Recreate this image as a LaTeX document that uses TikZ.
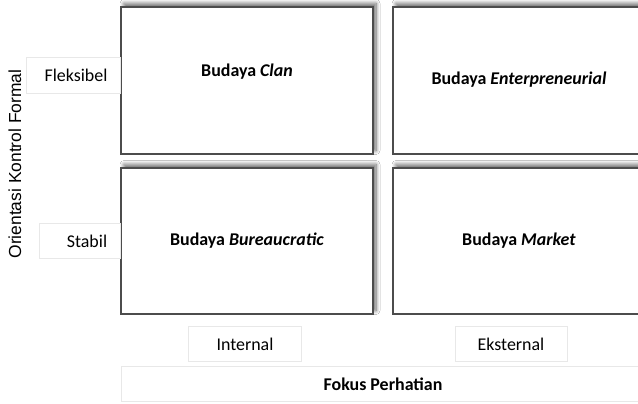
\documentclass[tikz,border=0pt]{standalone}
\usepackage{fontspec}
\setmainfont{Carlito}
\newfontfamily\axisfont{Liberation Sans}
\usetikzlibrary{shadows.blur}
\begin{document}
\begin{tikzpicture}[x=1bp,y=-1bp,
  cell/.style={draw=black!70, line width=1.4bp, fill=white,
    blur shadow={shadow xshift=3bp, shadow yshift=3.5bp, shadow blur radius=4bp,
      shadow blur steps=8, shadow opacity=60}},
  tag/.style={draw=black!9, line width=0.9bp, fill=white},
  celltext/.style={font=\fontsize{18}{21}\selectfont\bfseries},
  tagtext/.style={font=\fontsize{18}{21}\selectfont}]
\useasboundingbox (0,0) rectangle (638,403);
\fill[white] (0,0) rectangle (638,403);

% quadrants
\draw[cell] (121,7) rectangle (373,154);
\draw[cell] (393,7) rectangle (641,154);
\draw[cell] (121,168) rectangle (373,314);
\draw[cell] (393,168) rectangle (641,314);
\node[celltext] (clan) at (247,72) {Budaya \textit{Clan}};
\node[celltext] (entr) at (519,80) {Budaya \textit{Enterpreneurial}};
\node[celltext] (bure) at (247,241) {Budaya \textit{Bureaucratic}};
\node[celltext] (mark) at (519,241) {Budaya \textit{Market}};

% row labels
\draw[tag] (26,57) rectangle (120,93);
\node[tagtext] (flex) at (76,75) {Fleksibel};
\draw[tag] (39,223) rectangle (120,258);
\node[tagtext] (stab) at (87,241) {Stabil};

% column labels
\draw[tag] (188,326) rectangle (301,361);
\node[tagtext] (intl) at (245,344) {Internal};
\draw[tag] (455,326) rectangle (567,361);
\node[tagtext] (extl) at (511,344) {Eksternal};

% axis titles
\draw[tag] (121,366) rectangle (641,401);
\node[font=\fontsize{18}{21}\selectfont\bfseries] (fokus) at (383,384) {Fokus Perhatian};
\node[font=\axisfont\fontsize{17.5}{20}\selectfont, rotate=90] (orient) at (15,164) {Orientasi Kontrol Formal};
\end{tikzpicture}
\end{document}
